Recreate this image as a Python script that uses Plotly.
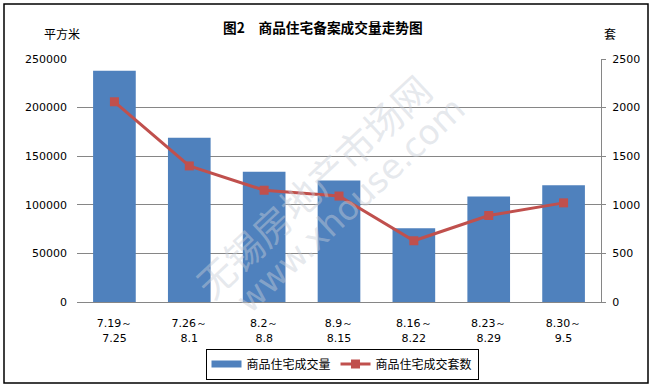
import plotly.graph_objects as go

categories = ["7.19～<br>7.25", "7.26～<br>8.1", "8.2～<br>8.8", "8.9～<br>8.15",
              "8.16～<br>8.22", "8.23～<br>8.29", "8.30～<br>9.5"]
area_values = [238000, 169000, 134000, 125000, 76000, 108500, 120000]
unit_values = [2060, 1400, 1150, 1090, 630, 890, 1020]
left_ticks = [0, 50000, 100000, 150000, 200000, 250000]
right_ticks = [0, 500, 1000, 1500, 2000, 2500]

CJK = "Noto Sans CJK SC"
NUM = "DejaVu Sans"
BLUE = "#4F81BD"
RED = "#C0504D"

fig = go.Figure()
fig.add_trace(go.Bar(x=categories, y=area_values, name="商品住宅成交量", showlegend=False,
                     marker=dict(color=BLUE, line=dict(width=0))))
fig.add_trace(go.Scatter(x=[None], y=[None], name="商品住宅成交量", mode="lines",
                         line=dict(color=BLUE, width=7)))
fig.add_trace(go.Scatter(x=categories, y=unit_values, name="商品住宅成交套数", yaxis="y2",
                         mode="lines+markers",
                         line=dict(color=RED, width=3),
                         marker=dict(symbol="square", size=9, color=RED)))

W, H = 653, 385
L, R, T, B = 77, 52, 59, 83
pw, ph = W - L - R, H - T - B

def px(x):
    return (x - L) / pw

def py(y):
    return (H - B - y) / ph

def note(text, x, y, font, angle=0):
    return dict(text=text, x=px(x), y=py(y), xref="paper", yref="paper",
                xanchor="center", yanchor="middle", showarrow=False,
                textangle=angle, font=font)

fig.update_layout(
    width=W, height=H,
    margin=dict(l=L, r=R, t=T, b=B, autoexpand=False),
    paper_bgcolor="white", plot_bgcolor="white",
    bargap=0.43,
    showlegend=True,
    legend=dict(orientation="h", x=px(342), xanchor="center", y=py(364), yanchor="middle",
                bordercolor="black", borderwidth=1, font=dict(family=CJK, size=12, color="black"),
                tracegroupgap=0),
    xaxis=dict(showgrid=False, showline=True, linecolor="#868686", linewidth=1, automargin=False,
               ticks="", tickfont=dict(family=NUM, size=11, color="black"),
               ticklabelstandoff=11, range=[-0.5, 6.5]),
    yaxis=dict(range=[0, 250000], tickvals=left_ticks, ticktext=[str(v) for v in left_ticks],
               showgrid=True, gridcolor="#868686", gridwidth=1, zeroline=False, automargin=False,
               showline=False, ticks="", ticklen=0, ticklabelstandoff=9,
               tickfont=dict(family=NUM, size=11, color="black")),
    yaxis2=dict(range=[0, 2500], tickvals=right_ticks, overlaying="y", side="right",
                showgrid=False, zeroline=False, showline=True, linecolor="#868686", automargin=False,
                ticks="outside", ticklen=4, tickcolor="#868686", ticklabelstandoff=4,
                tickfont=dict(family=NUM, size=11, color="black")),
    annotations=[
        note("<b>图2　商品住宅备案成交量走势图</b>", 323, 27, dict(family=CJK, size=13.7, color="black")),
        note("平方米", 62, 34, dict(family=CJK, size=12, color="black")),
        note("套", 610, 33, dict(family=CJK, size=12, color="black")),
        note("无锡房地产市场网", 312, 185, dict(family=CJK, size=38, color="rgba(200,205,215,0.45)"), -43),
        note("www.xhouse.com", 350, 205, dict(family=NUM, size=34, color="rgba(200,205,215,0.45)"), -43),
    ],
    shapes=[
        dict(type="rect", xref="paper", yref="paper",
             x0=px(4), x1=px(648), y0=py(383), y1=py(4),
             line=dict(color="black", width=1.5), fillcolor="rgba(0,0,0,0)", layer="below"),
    ],
)

fig.write_html("out.html", config={"displayModeBar": False},
               post_script="document.body.style.margin='0';document.body.style.overflow='hidden';")
